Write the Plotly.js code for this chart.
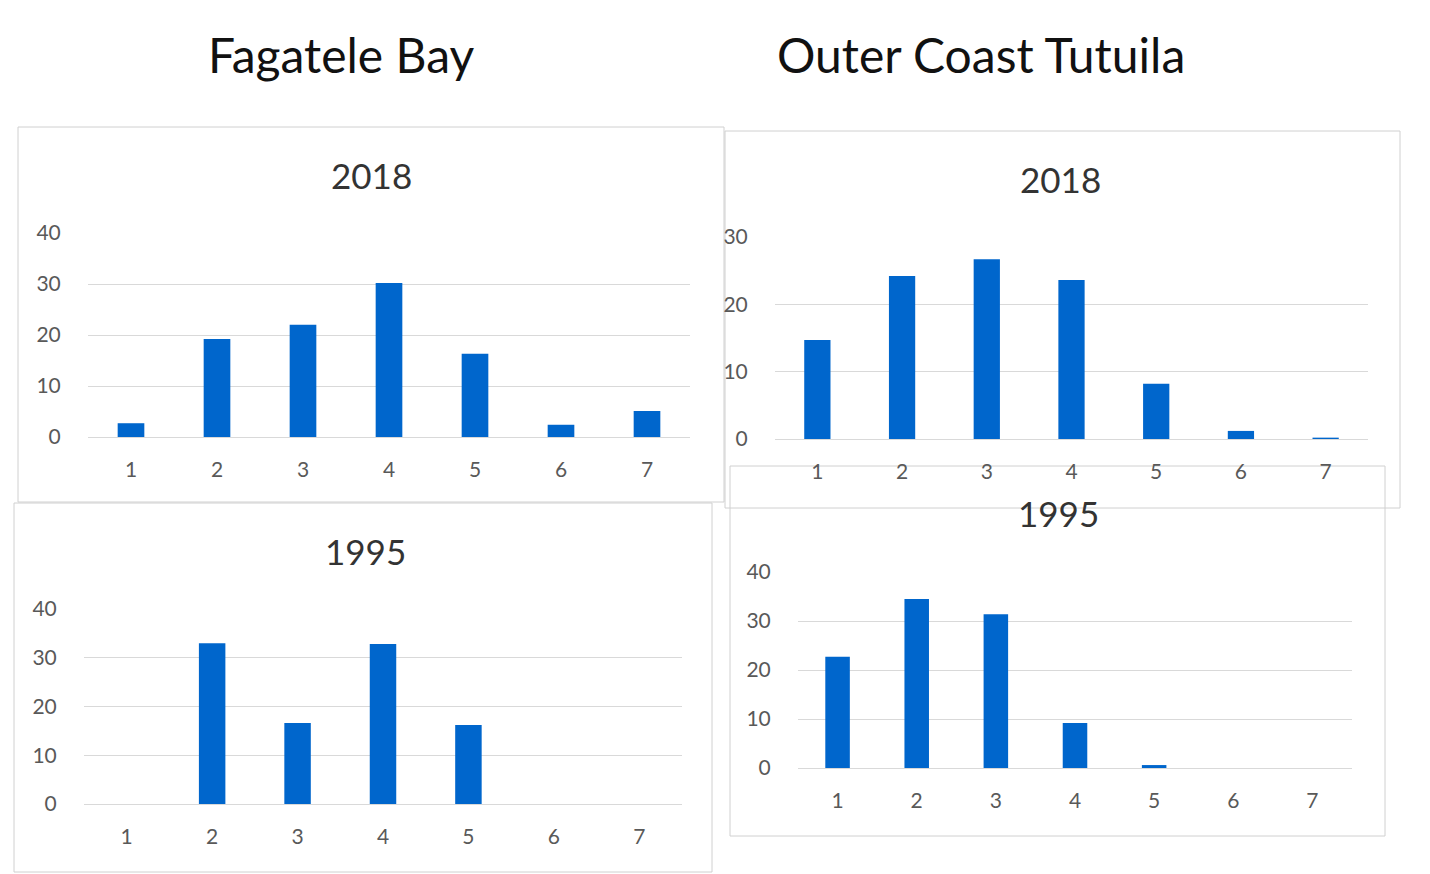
<!DOCTYPE html>
<html>
<head>
<meta charset="utf-8">
<script src="https://cdn.plot.ly/plotly-3.0.1.min.js"></script>
<style>body{margin:0;background:#fff}#chart{width:1430px;height:874px}</style>
</head>
<body>
<div id="chart"></div>
<script>
const categories = ["1", "2", "3", "4", "5", "6", "7"];
const fagatele2018 = [2.7, 19.2, 22.0, 30.2, 16.3, 2.4, 5.1];
const fagatele1995 = [0, 33.0, 16.6, 32.8, 16.2, 0, 0];
const outer2018 = [14.7, 24.2, 26.7, 23.6, 8.2, 1.2, 0.2];
const outer1995 = [22.7, 34.5, 31.4, 9.2, 0.6, 0, 0];

const W = 1430, H = 874;
const fx = px => px / W;
const fy = py => 1 - py / H;
const FONT = "Lato, 'Open Sans', sans-serif";

// panels: data, plot area in px, y max, dtick
const panels = [
    {y: fagatele2018, x0: 88, x1: 690, top: 233, bot: 437, max: 40, dt: 10},
    {y: outer2018, x0: 775, x1: 1368, top: 237, bot: 439, max: 30, dt: 10},
    {y: fagatele1995, x0: 84, x1: 682, top: 609, bot: 804, max: 40, dt: 10},
    {y: outer1995, x0: 798, x1: 1352, top: 572, bot: 768, max: 40, dt: 10}
];

const traces = [];
const layout = {
    width: W, height: H,
    margin: {l: 0, r: 0, t: 0, b: 0},
    paper_bgcolor: "#fff", plot_bgcolor: "rgba(0,0,0,0)",
    showlegend: false, bargap: 0.69,
    font: {family: FONT, color: "#595959"},
    annotations: [], shapes: []
};

panels.forEach((p, i) => {
    const n = i === 0 ? "" : String(i + 1);
    traces.push({
        type: "bar", x: categories, y: p.y,
        xaxis: "x" + n, yaxis: "y" + n,
        marker: {color: "#0066cc"}, hoverinfo: "x+y"
    });
    layout["xaxis" + n] = {
        domain: [fx(p.x0), fx(p.x1)], anchor: "y" + n,
        type: "category", showgrid: false, showline: false, zeroline: false,
        ticks: "outside", ticklen: 14, tickcolor: "rgba(0,0,0,0)",
        tickfont: {size: 21, color: "#595959", family: FONT}, fixedrange: true
    };
    layout["yaxis" + n] = {
        domain: [fy(p.bot), fy(p.top)], anchor: "x" + n,
        range: [0, p.max], dtick: p.dt,
        showgrid: true, gridcolor: "#d9d9d9", zeroline: true, zerolinecolor: "#d9d9d9",
        showline: false, ticks: "outside", ticklen: 22, tickcolor: "rgba(0,0,0,0)",
        tickfont: {size: 21, color: "#595959", family: FONT}, fixedrange: true
    };
});

// panel borders
[[18, 127, 724, 502], [725, 131, 1400, 508], [14, 503, 712, 872], [730, 466, 1385, 836]].forEach(b => {
    layout.shapes.push({
        type: "rect", xref: "paper", yref: "paper",
        x0: fx(b[0]), x1: fx(b[2]), y0: fy(b[3]), y1: fy(b[1]),
        line: {color: "#d0d0d0", width: 1}, layer: "below"
    });
});

const texts = [
    ["Fagatele Bay", 341, 55, 48, "#111"],
    ["Outer Coast Tutuila", 981, 55, 48, "#111"],
    ["2018", 371, 175, 35, "#333"],
    ["2018", 1060, 179, 35, "#333"],
    ["1995", 365, 551, 35, "#333"],
    ["1995", 1058, 513, 35, "#333"]
];
texts.forEach(t => {
    layout.annotations.push({
        text: t[0], xref: "paper", yref: "paper", x: fx(t[1]), y: fy(t[2]),
        xanchor: "center", yanchor: "middle", showarrow: false,
        font: {size: t[3], color: t[4], family: FONT}
    });
});

Plotly.newPlot("chart", traces, layout, {displayModeBar: false, staticPlot: true});
</script>
</body>
</html>
